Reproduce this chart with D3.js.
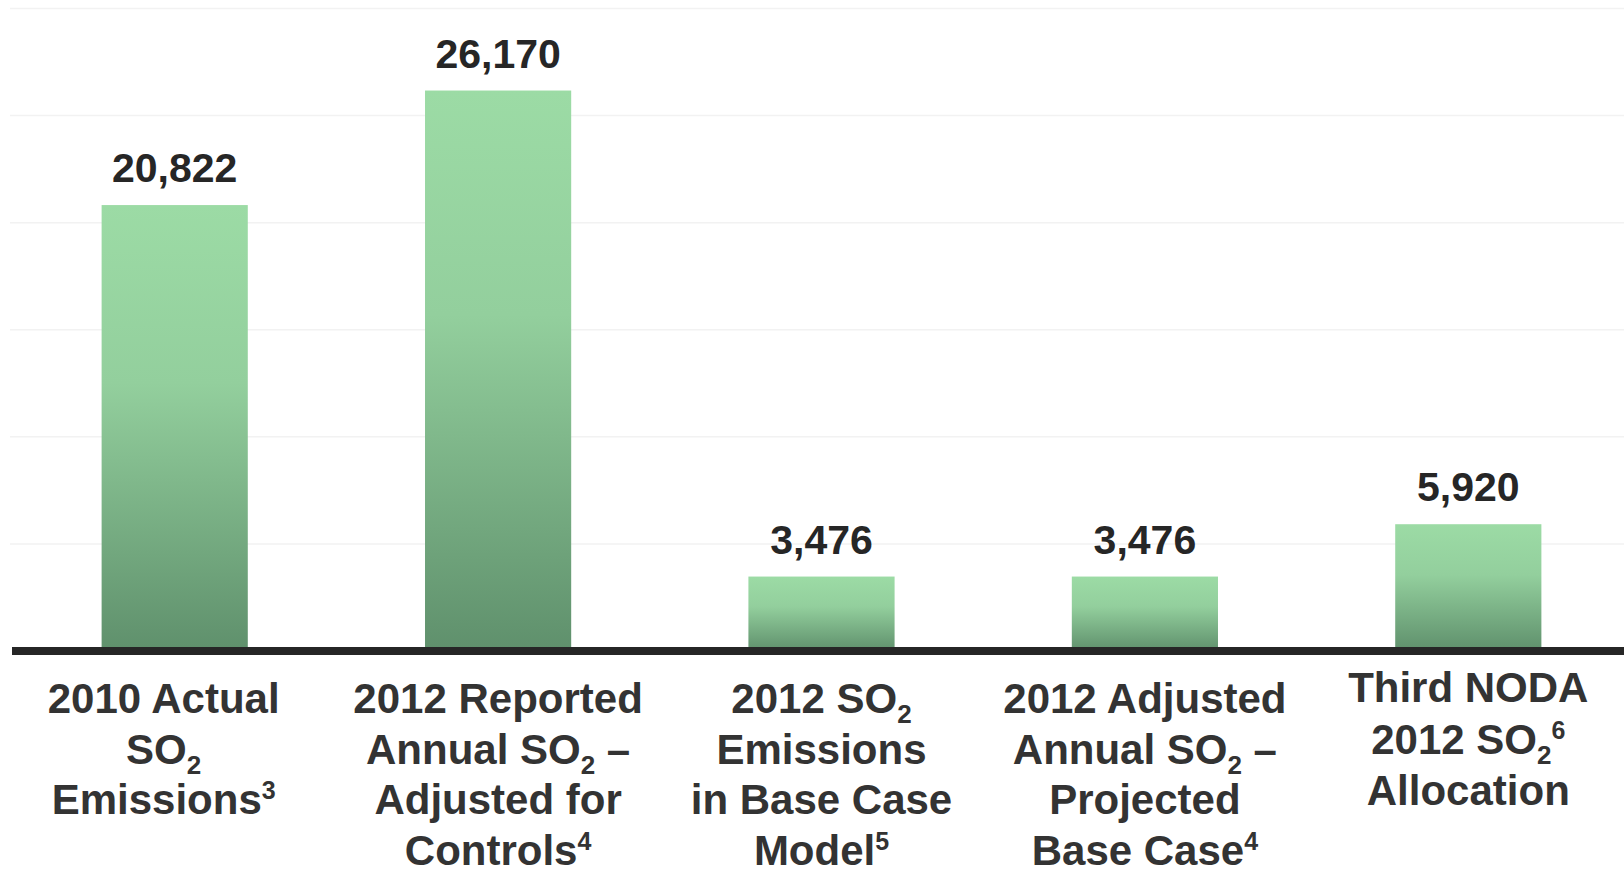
<!DOCTYPE html>
<html>
<head>
<meta charset="utf-8">
<script src="https://cdn.jsdelivr.net/npm/d3@7"></script>
<style>
  body { margin: 0; background: #fff; }
  text { font-family: "Liberation Sans", Arial, sans-serif; font-weight: bold; }
</style>
</head>
<body>
<div id="chart"></div>
<script>
var width = 1624;
var height = 871;

// data
var categories = ["c1", "c2", "c3", "c4", "c5"];
var values = [20822, 26170, 3476, 3476, 5920];
var valueLabels = ["20,822", "26,170", "3,476", "3,476", "5,920"];
// "_2" = subscript, "^3" = superscript
var categoryLines = [
  ["2010 Actual", "SO_2", "Emissions^3"],
  ["2012 Reported", "Annual SO_2 \u2013", "Adjusted for", "Controls^4"],
  ["2012 SO_2", "Emissions", "in Base Case", "Model^5"],
  ["2012 Adjusted", "Annual SO_2 \u2013", "Projected", "Base Case^4"],
  ["Third NODA", "2012 SO_2^6", "Allocation"]
];
var gridTicks = [5000, 10000, 15000, 20000, 25000, 30000];

var svg = d3.select("#chart")
  .append("svg")
  .attr("width", width)
  .attr("height", height);

var xScale = d3.scaleBand()
  .domain(categories)
  .range([13, 1630])
  .paddingInner(0.548)
  .paddingOuter(0.274);

var yScale = d3.scaleLinear().domain([0, 30000]).range([651, 8.5]);

// bar gradient
var grad = svg.append("defs").append("linearGradient")
  .attr("id", "barGrad")
  .attr("x1", 0).attr("y1", 0)
  .attr("x2", 0).attr("y2", 1);
grad.append("stop").attr("offset", "0%").attr("stop-color", "#9cdba5");
grad.append("stop").attr("offset", "40%").attr("stop-color", "#93cf9d");
grad.append("stop").attr("offset", "100%").attr("stop-color", "#5f906c");

// faint gridlines
svg.append("g")
  .selectAll("line")
  .data(gridTicks)
  .enter()
  .append("line")
  .attr("x1", 10)
  .attr("x2", width)
  .attr("y1", function (d) { return yScale(d); })
  .attr("y2", function (d) { return yScale(d); })
  .style("stroke", "#f2f2f2")
  .style("stroke-width", 1.5);

// bars
svg.append("g")
  .selectAll("rect")
  .data(values)
  .enter()
  .append("rect")
  .attr("x", function (d, i) { return xScale(categories[i]); })
  .attr("y", function (d) { return yScale(d); })
  .attr("width", xScale.bandwidth())
  .attr("height", function (d) { return yScale(0) - yScale(d); })
  .style("fill", "url(#barGrad)");

// value labels
svg.append("g")
  .selectAll("text")
  .data(values)
  .enter()
  .append("text")
  .attr("x", function (d, i) { return xScale(categories[i]) + xScale.bandwidth() / 2; })
  .attr("y", function (d) { return yScale(d) - 23; })
  .attr("text-anchor", "middle")
  .attr("font-size", "41px")
  .style("fill", "#262626")
  .text(function (d, i) { return valueLabels[i]; });

// x axis baseline
svg.append("line")
  .attr("x1", 12)
  .attr("x2", width)
  .attr("y1", yScale(0))
  .attr("y2", yScale(0))
  .style("stroke", "#262626")
  .style("stroke-width", 8);

// category labels, with sub/superscripts
function addRichLine(textEl, str) {
  var parts = str.split(/(_\d|\^\d)/);
  var shift = 0;
  parts.forEach(function (p) {
    if (p === "") return;
    var t = textEl.append("tspan");
    if (p[0] === "_") {
      t.attr("font-size", "26px").attr("dy", 10 - shift).text(p.slice(1));
      shift = 10;
    } else if (p[0] === "^") {
      t.attr("font-size", "25px").attr("dy", -15 - shift).text(p.slice(1));
      shift = -15;
    } else {
      t.attr("dy", -shift).text(p);
      shift = 0;
    }
  });
}

categoryLines.forEach(function (lines, i) {
  var cx = xScale(categories[i]) + xScale.bandwidth() / 2;
  // first label sits a bit left of its bar, last one a bit higher
  if (i === 0) cx -= 11;
  var top = i === 4 ? 702 : 713;
  var step = i === 4 ? 51.5 : 50.5;
  lines.forEach(function (line, j) {
    var t = svg.append("text")
      .attr("x", cx)
      .attr("y", top + j * step)
      .attr("text-anchor", "middle")
      .attr("font-size", "42px")
      .style("fill", "#333333");
    addRichLine(t, line);
  });
});
</script>
</body>
</html>
